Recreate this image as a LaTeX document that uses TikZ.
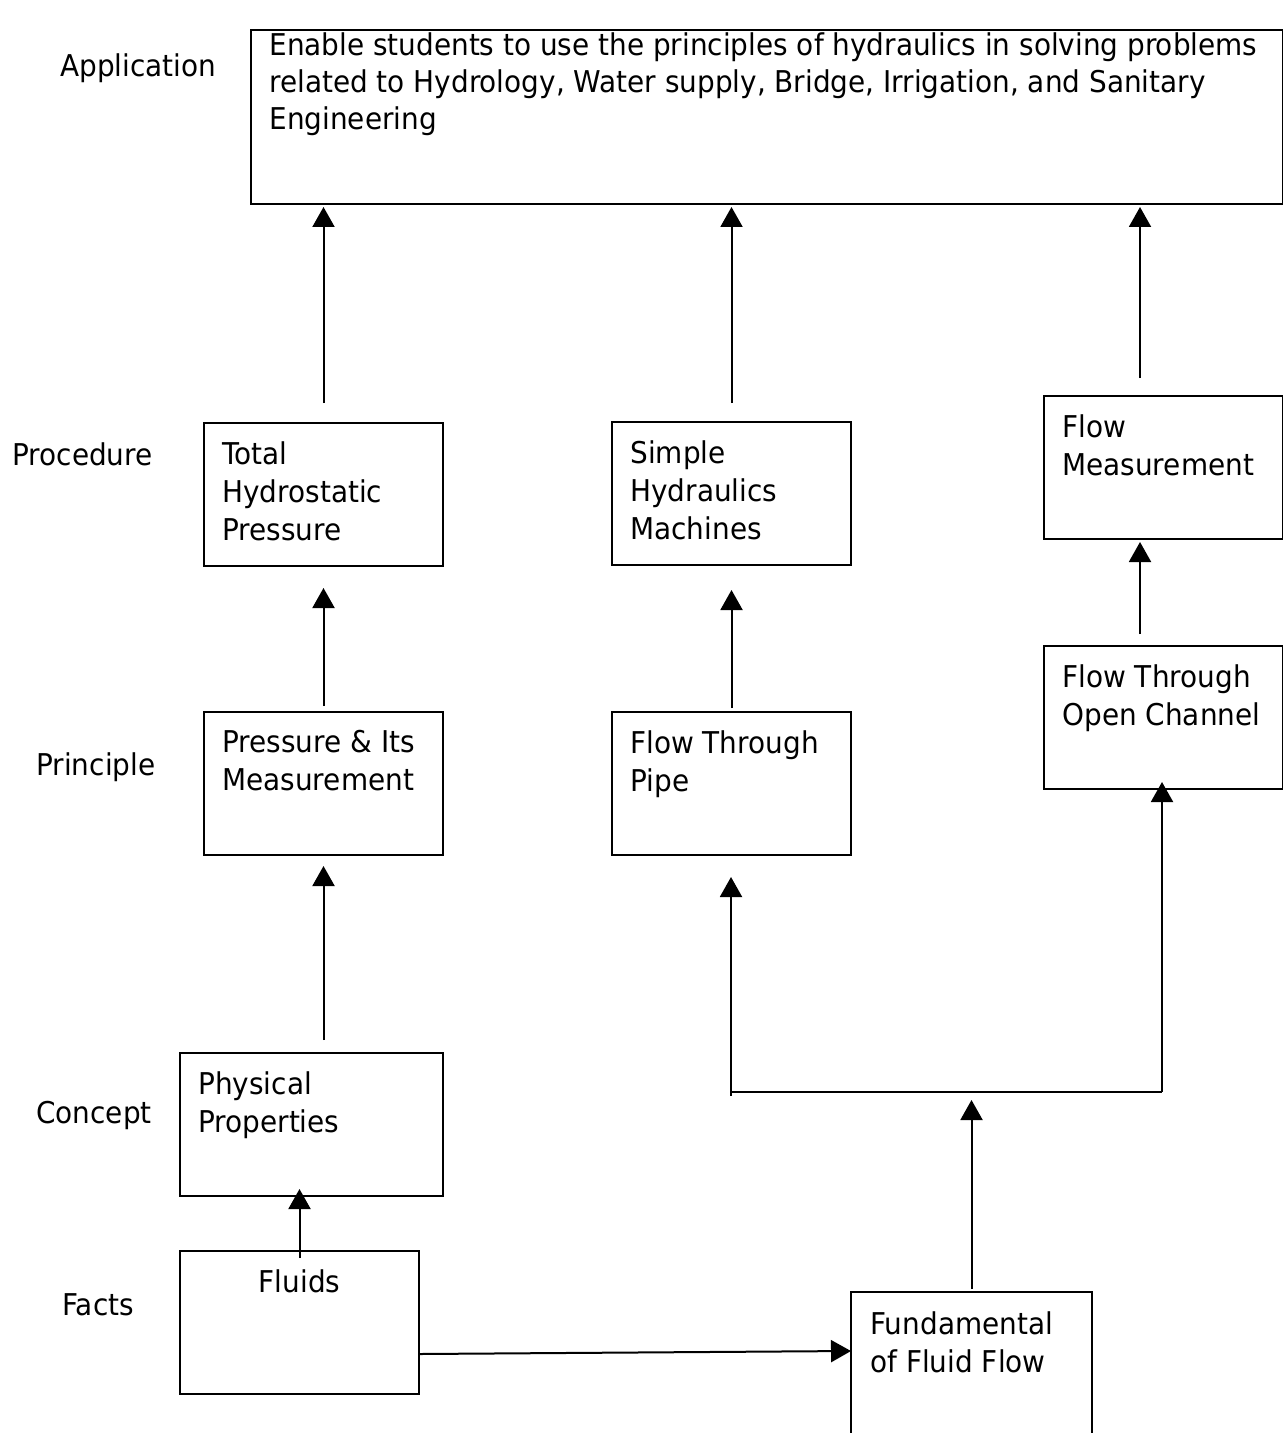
\documentclass[tikz,border=0pt]{standalone}
\usepackage{fontspec}
\setmainfont[FakeStretch=0.93]{DejaVu Sans}
\usetikzlibrary{arrows.meta}

\tikzset{
  box/.style={draw, line width=1pt, anchor=north west, inner sep=0pt,
    minimum width=119.5pt, minimum height=71.5pt},
  txt/.style={anchor=north west, align=left, inner sep=0pt, xshift=9.5pt, yshift=-9.5pt,
    font=\fontsize{15}{19}\selectfont},
  lvl/.style={anchor=base west, inner sep=0pt, font=\fontsize{15}{19}\selectfont},
  arr/.style={line width=1pt, -{Triangle[width=11pt,length=10pt]}},
}

\begin{document}
\begin{tikzpicture}[x=0.5pt, y=-0.5pt]

        \useasboundingbox (0,0) rectangle (1283,1433);

        % level names on the left
        \node[lvl] (lApp) at (60,77) {Application};
        \node[lvl] (lProc) at (12,465) {Procedure};
        \node[lvl] (lPrin) at (36,775) {Principle};
        \node[lvl] (lConc) at (36,1123) {Concept};
        \node[lvl] (lFact) at (62,1315) {Facts};

        % the goal on top
        \node[box, minimum width=516pt, minimum height=87pt,
          label={[txt, yshift=8pt, font=\fontsize{15}{18.7}\selectfont]north west:Enable students to use the principles of hydraulics in solving problems\\related to Hydrology, Water supply, Bridge, Irrigation, and Sanitary\\Engineering}] (app) at (250,29) {};

        \node[box, label={[txt]north west:Total\\Hydrostatic\\Pressure}] (thp) at (203,422) {};
        \node[box, label={[txt]north west:Simple\\Hydraulics\\Machines}] (shm) at (611,421) {};
        \node[box, label={[txt]north west:Flow\\Measurement}] (fm) at (1043,395) {};

        \node[box, label={[txt]north west:Pressure \& Its\\Measurement}] (pim) at (203,711) {};
        \node[box, label={[txt]north west:Flow Through\\Pipe}] (ftp) at (611,711) {};
        \node[box, label={[txt]north west:Flow Through\\Open Channel}] (ftoc) at (1043,645) {};

        \node[box, minimum width=131.5pt, label={[txt]north west:Physical\\Properties}] (pp) at (179,1052) {};

        \node[box, label={[txt, anchor=north, xshift=-9.5pt]north:Fluids}] (fl) at (179,1250) {};
        \node[box, draw=none, minimum height=70.5pt, label={[txt]north west:Fundamental\\of Fluid Flow}] (fff) at (851,1292) {};
        \draw[line width=1pt] (fff.south west) -- (fff.north west) -- (fff.north east) -- (fff.south east);

        % up to the application
        \coordinate (fmtail) at ([xshift=-11.75pt]fm.north);
        \draw[arr, shorten <=9.5pt, shorten >=1pt] (thp.north) -- (thp.north |- app.south);
        \draw[arr, shorten <=9pt, shorten >=1pt] (shm.north) -- (shm.north |- app.south);
        \draw[arr, shorten <=8.5pt, shorten >=1pt] (fmtail) -- (fmtail |- app.south);

        % principle to procedure
        \coordinate (octail) at ([xshift=-11.75pt]ftoc.north);
        \draw[arr, shorten <=2.5pt, shorten >=10.5pt] (pim.north) -- (thp.south);
        \draw[arr, shorten <=1.5pt, shorten >=12pt] (ftp.north) -- (shm.south);
        \draw[arr, shorten <=5.5pt, shorten >=1pt] (octail) -- (octail |- fm.south);

        % concept to principle
        \draw[arr, shorten <=6pt, shorten >=5pt] (pp.north -| pim.south) -- (pim.south);

        % facts
        \draw[arr, shorten <=-4pt, shorten >=-4pt] (fl.north) -- (fl.north |- pp.south);
        \draw[arr] ([yshift=-15.75pt]fl.east) -- ([yshift=6.25pt]fff.west);

        % fundamental splits into pipe and open channel
        \coordinate (jl) at (731,1092);
        \coordinate (jr) at (1162,1092);
        \draw[line width=1pt] (jl) -- (jr);
        \draw[arr, shorten <=1.5pt, shorten >=4pt] (fff.north) -- (fff.north |- jl);
        \draw[arr, shorten <=-2pt, shorten >=10.5pt] (jl) -- (jl |- ftp.south);
        \draw[arr, shorten >=-4pt] (jr) -- (jr |- ftoc.south);

      \end{tikzpicture}
\end{document}
